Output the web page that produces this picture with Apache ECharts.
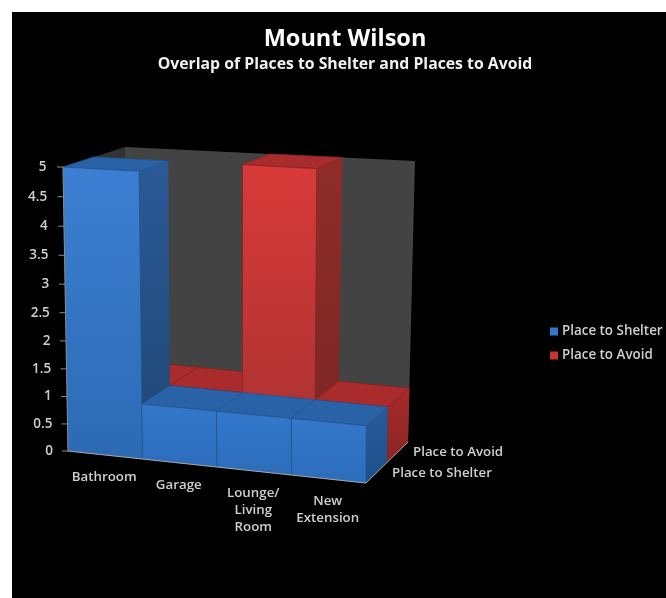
<!DOCTYPE html>
<html><head><meta charset="utf-8">
<script src="https://cdn.jsdelivr.net/npm/echarts@6/dist/echarts.min.js"></script>
<style>html,body{margin:0;padding:0;background:#fff}#c{width:666px;height:598px;filter:blur(0.55px)}</style>
</head><body><div id="c"></div>
<script>
const categories = ['Bathroom', 'Garage', 'Lounge/\nLiving\nRoom', 'New\nExtension'];
const shelterValues = [5, 1, 1, 1];
const avoidValues = [1, 1, 5, 1];
const yTicks = [0, 0.5, 1, 1.5, 2, 2.5, 3, 3.5, 4, 4.5, 5];
const rows = ['Place to Shelter', 'Place to Avoid'];

const FONT = '"Open Sans", "Noto Sans", sans-serif';
const GRID = {left: 68, top: 167, width: 298, height: 284};
// projected corners of the plot box: [across, up, deep] each 0 or 1
const BOX = {
  '000': [68, 451], '100': [366, 483], '010': [63, 167], '110': [367, 184],
  '001': [128, 411], '101': [408, 442], '011': [125, 147], '111': [415, 161]
};
function mix(a, b, t) { return [a[0] + (b[0] - a[0]) * t, a[1] + (b[1] - a[1]) * t]; }
function project(s, f, d) {
  const g = f - 0.052 * f * (1 - f);
  const c = (i, j, k) => BOX['' + i + j + k];
  const n = mix(mix(c(0,0,0), c(1,0,0), s), mix(c(0,1,0), c(1,1,0), s), g);
  const m = mix(mix(c(0,0,1), c(1,0,1), s), mix(c(0,1,1), c(1,1,1), s), g);
  return mix(n, m, d);
}
// data value -> box fractions through the chart's own axes
function toBox(api, i, v) {
  const p = api.coord([i, v]);
  const band = api.size([1, 0])[0];
  return {s0: (p[0] - band / 2 - GRID.left) / GRID.width,
          s1: (p[0] + band / 2 - GRID.left) / GRID.width,
          s: (p[0] - GRID.left) / GRID.width,
          f: (GRID.top + GRID.height - p[1]) / GRID.height};
}
const grad = (a, b) => new echarts.graphic.LinearGradient(0, 0, 0, 1, [{offset: 0, color: a}, {offset: 1, color: b}]);
const poly = (points, fill, stroke) => ({type: 'polygon', shape: {points},
  style: {fill, stroke: stroke || 'none', lineWidth: stroke ? 0.8 : 0}});

const SKIN = [
  {tall: {front: ['#3c7fd2', '#2c6ab4'], side: ['#2a5a98', '#1f4672'], top: '#2a62a8'},
   low: {front: ['#3278ca', '#2d6cbb'], side: ['#265c9c', '#1e4f8a'], top: '#2a62a8'}, seam: '#22558f', d0: 0, d1: 0.5},
  {tall: {front: ['#d83a38', '#a83232'], side: ['#8e2c2a', '#7c2624'], top: '#a82c2c'},
   low: {front: ['#c83434', '#b03030'], side: ['#a82a2a', '#8a2424'], top: '#a92b2b'}, seam: '#8a2222', d0: 0.5, d1: 1}
];
function barItem(row) {
  return function (params, api) {
    const i = api.value(0), v = api.value(1), b = toBox(api, i, v), z = toBox(api, i, 0);
    const k = SKIN[row], c = v > 2 ? k.tall : k.low;
    const P = (s, f, d) => project(s, f, d);
    return {type: 'group', children: [
      poly([P(b.s1, z.f, k.d0), P(b.s1, z.f, k.d1), P(b.s1, b.f, k.d1), P(b.s1, b.f, k.d0)], grad(c.side[0], c.side[1])),
      poly([P(b.s0, b.f, k.d0), P(b.s1, b.f, k.d0), P(b.s1, b.f, k.d1), P(b.s0, b.f, k.d1)], c.top, k.seam),
      poly([P(b.s0, z.f, k.d0), P(b.s1, z.f, k.d0), P(b.s1, b.f, k.d0), P(b.s0, b.f, k.d0)], grad(c.front[0], c.front[1]), k.seam)
    ]};
  };
}
const label = (text, x, y, align, verticalAlign, fontSize, extra) => ({type: 'text', style: Object.assign({
  text, x, y, align, verticalAlign, fontFamily: FONT, fontSize, fontWeight: 600, fill: '#cfcfcf'}, extra || {})});

const option = {
  animation: false,
  backgroundColor: '#fff',
  graphic: [{type: 'rect', z: -10, shape: {x: 12, y: 12, width: 654, height: 586}, style: {fill: '#000'}}],
  title: [
    {text: 'Mount Wilson', left: 340, top: 22, textAlign: 'center',
     textStyle: {color: '#fff', fontFamily: FONT, fontSize: 23.5, fontWeight: 700}},
    {text: 'Overlap of Places to Shelter and Places to Avoid', left: 340, top: 51, textAlign: 'center',
     textStyle: {color: '#f0f0f0', fontFamily: FONT, fontSize: 15.8, fontWeight: 700}}
  ],
  legend: {orient: 'vertical', left: 545, top: 320, itemWidth: 8, itemHeight: 8, itemGap: 11, icon: 'rect',
    data: rows, textStyle: {color: '#cfcfcf', fontFamily: FONT, fontSize: 13.4, fontWeight: 600, padding: [0, 0, 0, -1]}},
  grid: GRID,
  xAxis: {type: 'category', data: categories, show: false},
  yAxis: {type: 'value', min: 0, max: 5, interval: 0.5, show: false},
  series: [
    {type: 'custom', name: 'walls', silent: true, z: 1, data: [[0, 0]],
     renderItem(p, api) {
       const Q = (s, f, d) => project(s, f, d);
       return {type: 'group', children: [
         poly([Q(0,0,0), Q(0,0,1), Q(0,1,1), Q(0,1,0)], '#333333'),
         poly([Q(0,0,1), Q(1,0,1), Q(1,1,1), Q(0,1,1)], '#434343')
       ]};
     }},
    {type: 'custom', name: rows[1], z: 2, itemStyle: {color: '#c83434'}, encode: {x: 0, y: 1},
     data: avoidValues.map((v, i) => [i, v]), renderItem: barItem(1)},
    {type: 'custom', name: rows[0], z: 3, itemStyle: {color: '#3278ca'}, encode: {x: 0, y: 1},
     data: shelterValues.map((v, i) => [i, v]), renderItem: barItem(0)},
    {type: 'custom', name: 'valueAxis', silent: true, z: 4, data: yTicks.map(v => [0, v]),
     renderItem(p, api) {
       const v = api.value(1), f = toBox(api, 0, v).f, a = project(0, f, 0);
       const items = [
         {type: 'line', shape: {x1: a[0] - 6, y1: a[1], x2: a[0], y2: a[1]}, style: {stroke: '#8c8c8c', lineWidth: 1}},
         label(String(v), a[0] - 15 - 1.5 * f, a[1], 'right', 'middle', 13.5)
       ];
       if (p.dataIndex === 0) {
         const top = project(0, 1, 0);
         items.push({type: 'line', shape: {x1: a[0], y1: a[1], x2: top[0], y2: top[1]}, style: {stroke: '#8c8c8c', lineWidth: 1}});
         const r = project(1, 0, 0), b = project(1, 0, 1);
         items.push({type: 'polyline', shape: {points: [a, r, b]}, style: {stroke: '#a8a8a8', fill: 'none', lineWidth: 1}});
       }
       return {type: 'group', children: items};
     }},
    {type: 'custom', name: 'categoryAxis', silent: true, z: 4, data: categories.map((c, i) => [i, 0]),
     renderItem(p, api) {
       const i = api.value(0), b = toBox(api, i, 0), a = project(b.s, 0, 0);
       return label(categories[i], a[0] - 1, a[1] + 14, 'center', 'top', 13.3, {lineHeight: 17});
     }},
    {type: 'custom', name: 'depthAxis', silent: true, z: 4, data: rows.map((r, i) => [3, i]),
     renderItem(p, api) {
       const r = p.dataIndex, a = project(1, 0, 0.25 + 0.5 * r);
       return label(rows[r], a[0] + 15.5, a[1], 'left', 'middle', 13.3);
     }}
  ]
};
const chart = echarts.init(document.getElementById('c'));
chart.setOption(option);
</script></body></html>
